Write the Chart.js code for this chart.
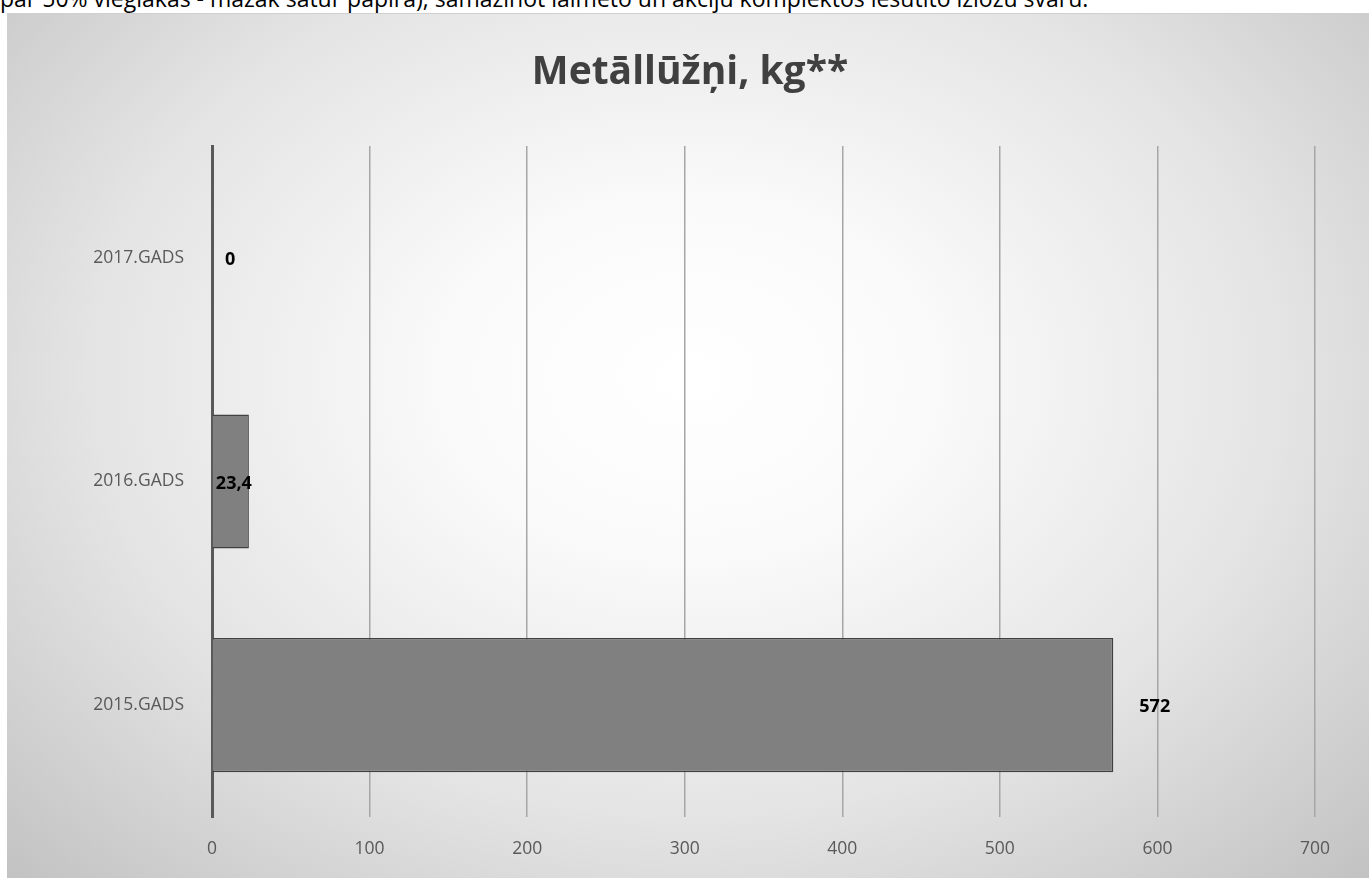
<!DOCTYPE html>
<html>
<head>
<meta charset="utf-8">
<script src="https://cdn.jsdelivr.net/npm/chart.js@4"></script>
<style>
  html, body { margin: 0; padding: 0; width: 1369px; height: 878px; overflow: hidden; background: #fff; }
  #teksts {
    position: absolute; left: 0; top: -16px; white-space: nowrap;
    font-family: "Open Sans", sans-serif; font-size: 23px; line-height: 28px; color: #000;
  }
  #kaste {
    position: absolute; left: 7px; top: 13px; width: 1362px; height: 865px;
    border-top: 1px solid #d0d0d0;
    background: radial-gradient(ellipse farthest-corner at 50% 42%, #ffffff 0%, #fafafa 25%, #e4e4e4 62%, #c2c2c2 100%);
  }
</style>
</head>
<body>
<div id="teksts">par 50% vieglākas - mazāk satur papīra), samazinot laimēto un akciju komplektos iesūtīto izložu svaru.</div>
<div id="kaste"><canvas id="grafiks" width="1362" height="864"></canvas></div>
<script>
const gadi = ['2015.GADS', '2016.GADS', '2017.GADS']
const kg = [572, 23.4, 0]
const asisTicks = [0, 100, 200, 300, 400, 500, 600, 700]
const virsraksts = 'Metāllūžņi, kg**'

// etiketes novietojums attiecibā pret stabina galu (pikseļi)
const etiketesNobide = [26, -33, 13]

const vertibuEtiketes = {
    id: 'vertibuEtiketes',
    afterDatasetsDraw(chart) {
        const ctx = chart.ctx
        const meta = chart.getDatasetMeta(0)
        ctx.save()
        ctx.font = 'bold 18px "Open Sans"'
        ctx.fillStyle = '#000'
        ctx.textBaseline = 'middle'
        ctx.textAlign = 'left'
        meta.data.forEach((bar, i) => {
            const txt = String(kg[i]).replace('.', ',')
            ctx.fillText(txt, bar.x + etiketesNobide[i], bar.y + 2)
        })
        ctx.restore()
    }
}

// virsraksts pa vidu visam laukumam
const virsrakstaPlugin = {
    id: 'virsrakstaPlugin',
    afterDraw(chart) {
        const ctx = chart.ctx
        ctx.save()
        ctx.font = 'bold 39px "Open Sans"'
        ctx.fillStyle = '#404040'
        ctx.textAlign = 'center'
        ctx.textBaseline = 'alphabetic'
        ctx.fillText(virsraksts, chart.width / 2 + 2, 70)
        ctx.restore()
    }
}

const cfg = {
    type: 'bar',
    data: {
        labels: gadi,
        datasets: [{
            data: kg,
            backgroundColor: '#808080',
            borderColor: '#404040',
            borderWidth: 1.5,
            categoryPercentage: 0.6,
            barPercentage: 1
        }]
    },
    options: {
        indexAxis: 'y',
        responsive: false,
        animation: false,
        layout: { padding: { right: 54, top: 132 } },
        plugins: {
            legend: { display: false },
            tooltip: { enabled: false },
            title: { display: false }
        },
        scales: {
            y: {
                reverse: true,
                grid: { display: false },
                border: { display: true, color: '#595959', width: 3 },
                ticks: { color: '#595959', font: { family: '"Open Sans"', size: 17.5 }, padding: 20 },
                afterFit(s) { s.width = 205 }
            },
            x: {
                min: 0,
                max: 700,
                afterBuildTicks(s) { s.ticks = asisTicks.map(v => ({ value: v })) },
                grid: { color: '#a6a6a6', lineWidth: 1.5, drawTicks: false },
                border: { display: false },
                ticks: { color: '#595959', font: { family: '"Open Sans"', size: 17.5 }, padding: 22 },
                afterFit(s) { s.height = 61 }
            }
        }
    },
    plugins: [vertibuEtiketes, virsrakstaPlugin]
}

new Chart(document.getElementById('grafiks'), cfg)
</script>
</body>
</html>
